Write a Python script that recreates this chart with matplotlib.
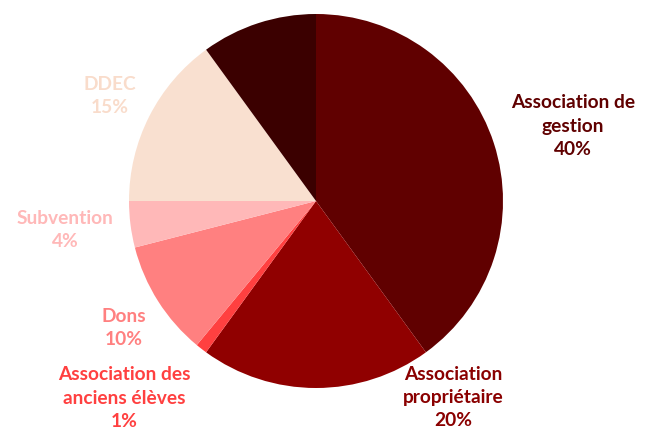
import matplotlib.pyplot as plt

# -------------------- Data --------------------
labels = ['Association de\ngestion', 'Association\npropriétaire',
          'Association des\nanciens élèves', 'Dons', 'Subvention', 'DDEC', '']
values = [40, 20, 1, 10, 4, 15, 10]
colors = ['#600000', '#900000', '#FF4040', '#FF8080', '#FFB8B8', '#F9E0D0', '#3B0000']
text_colors = ['#600000', '#8A0000', '#FF4040', '#FF8080', '#FFB8B8', '#F9DCCB', '#3B0000']

# label centres in pie units (radius = 1), placed like Excel's "best fit"
label_pos = [(1.374, 0.40), (0.733, -1.05), (-1.027, -1.055), (-1.027, -0.679),
             (-1.342, -0.155), (-1.102, 0.561), None]

# -------------------- Plotting --------------------
plt.rcParams['font.family'] = ['Lato', 'DejaVu Sans']

fig = plt.figure(figsize=(6.5, 4.32), dpi=100)
ax = fig.add_axes([0, 0, 1, 1])

ax.pie(values, colors=colors, startangle=90, counterclock=False,
       wedgeprops=dict(linewidth=0))

total = sum(values)
for lab, val, col, pos in zip(labels, values, text_colors, label_pos):
    if pos is None or lab == '':
        continue
    ax.text(pos[0], pos[1], '%s\n%d%%' % (lab, round(100 * val / total)),
            ha='center', va='center', color=col, fontsize=13.8,
            fontweight='bold', linespacing=1.45)

ax.set_xlim(-316 / 187, 334 / 187)
ax.set_ylim(-231 / 187, 201 / 187)
ax.set_aspect('equal')
ax.axis('off')

fig.savefig('out.png', dpi=100)
